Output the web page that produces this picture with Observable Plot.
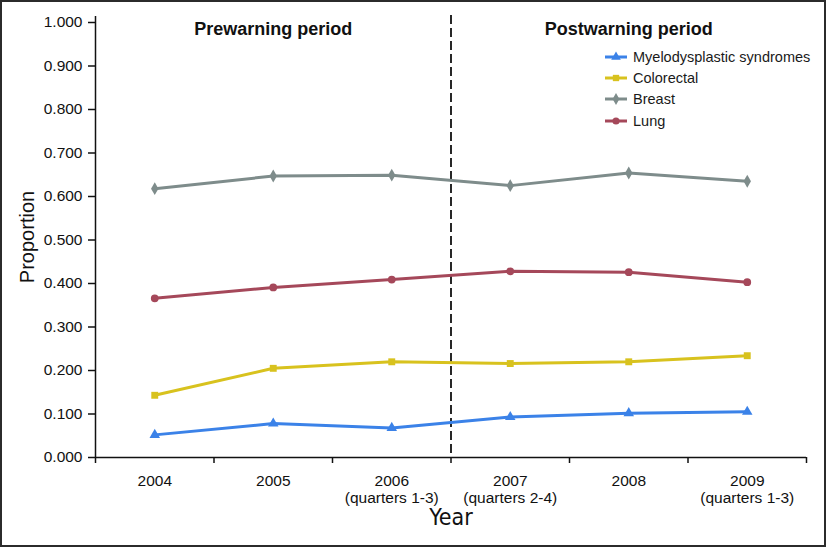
<!DOCTYPE html>
<html><head><meta charset="utf-8">
<script src="https://cdn.jsdelivr.net/npm/d3@7"></script>
<script src="https://cdn.jsdelivr.net/npm/@observablehq/plot@0.6"></script>
<style>
body{margin:0;background:#fff;}
#wrap{position:relative;width:828px;height:547px;font-family:"Liberation Sans",Arial,Helvetica,sans-serif;}
#border{position:absolute;left:0;top:0;width:826px;height:547px;box-sizing:border-box;border:2px solid #2b2b2b;pointer-events:none;}
#legend{position:absolute;left:605px;top:46px;font-size:14.5px;color:#1a1a1a;}
.row{display:flex;align-items:center;height:21.4px;white-space:nowrap;}
.row svg{margin-right:6px;}
</style></head><body><div id="wrap"><div id="chart"></div><div id="legend"></div><div id="border"></div></div>
<script>
// Category (x) labels
const yearLabels = ["2004", "2005", "2006\n(quarters 1-3)", "2007\n(quarters 2-4)", "2008", "2009\n(quarters 1-3)"];
// Series
const seriesNames = ["Myelodysplastic syndromes", "Colorectal", "Breast", "Lung"];
const seriesColors = ["#3b82e8", "#d8c21e", "#7e8c8b", "#a5485a"];
const seriesSymbols = ["triangle", "square", "diamond", "circle"];
const mdsValues        = [0.052, 0.078, 0.068, 0.093, 0.102, 0.105];
const colorectalValues = [0.143, 0.205, 0.220, 0.216, 0.220, 0.234];
const breastValues     = [0.618, 0.647, 0.649, 0.625, 0.654, 0.635];
const lungValues       = [0.366, 0.391, 0.409, 0.428, 0.426, 0.403];
// Y ticks
const yTicks = [0, 0.1, 0.2, 0.3, 0.4, 0.5, 0.6, 0.7, 0.8, 0.9, 1.0];
// Periods (in category index units) and warning boundary
const periodLabels = ["Prewarning period", "Postwarning period"];
const periodStart = [0, 3];
const periodEnd = [3, 6];
const warningBoundary = 3;

const valuesBySeries = [mdsValues, colorectalValues, breastValues, lungValues];
const rows = seriesNames.flatMap((s, k) => valuesBySeries[k].map((v, i) => ({series: s, pos: i + 0.5, value: v})));
const bandEdges = d3.range(yearLabels.length + 1);
const bandCenters = yearLabels.map((_, i) => i + 0.5);
const periods = periodLabels.map((label, i) => ({label, mid: (periodStart[i] + periodEnd[i]) / 2}));

const plot = Plot.plot({
  width: 828, height: 547,
  marginLeft: 95, marginRight: 22, marginTop: 22, marginBottom: 90,
  style: {fontFamily: "'Liberation Sans', Arial, Helvetica, sans-serif", background: "transparent", color: "#111"},
  x: {type: "linear", domain: [0, yearLabels.length]},
  y: {domain: [0, 1]},
  color: {domain: seriesNames, range: seriesColors},
  symbol: {domain: seriesNames, range: seriesSymbols},
  marks: [
    Plot.axisY(yTicks, {tickSize: 7, tickPadding: 6, tickFormat: d3.format(".3f"), fontSize: 15.5, strokeWidth: 1.5, label: null}),
    Plot.axisX(bandEdges, {tickSize: 6, tickFormat: () => "", strokeWidth: 1.5, label: null}),
    Plot.axisX(bandCenters, {tickSize: 0, tickPadding: 16, tickFormat: d => yearLabels[Math.floor(d)], fontSize: 15.5, lineHeight: 1.13, label: null}),
    Plot.ruleX([0], {stroke: "#111", strokeWidth: 1.5, insetTop: -6}),
    Plot.ruleY([0], {stroke: "#111", strokeWidth: 1.5}),
    Plot.ruleX([warningBoundary], {stroke: "#111", strokeWidth: 1.8, strokeDasharray: "9,4", insetTop: -7}),
    Plot.line(rows, {x: "pos", y: "value", z: "series", stroke: "series", strokeWidth: 3}),
    Plot.dot(rows, {x: "pos", y: "value", fill: "series", symbol: "series", r: 3.9}),
    Plot.text(periods, {x: "mid", frameAnchor: "top", text: "label", fontWeight: "bold", fontSize: 18, fill: "#111"}),
    Plot.text(["Proportion"], {frameAnchor: "left", textAnchor: "middle", dx: -68, dy: -3, rotate: -90, fontSize: 20, fill: "#111"}),
    Plot.text(["Year"], {frameAnchor: "bottom", dy: 67, fontSize: 23, fill: "#111", fontFamily: "'Liberation Sans Narrow', 'DejaVu Sans Condensed', Arial, sans-serif"})
  ]
});
document.getElementById("chart").appendChild(plot);

// Legend
const legend = document.getElementById("legend");
const symbolPaths = {triangle: d3.symbolTriangle, square: d3.symbolSquare, diamond: d3.symbolDiamond, circle: d3.symbolCircle};
seriesNames.forEach((name, k) => {
  const row = document.createElement("div");
  row.className = "row";
  const path = d3.symbol(symbolPaths[seriesSymbols[k]], 40)();
  row.innerHTML = `<svg width="22" height="12"><line x1="0" x2="22" y1="6" y2="6" stroke="${seriesColors[k]}" stroke-width="3"/><path d="${path}" transform="translate(11,6)" fill="${seriesColors[k]}"/></svg><span>${name}</span>`;
  legend.appendChild(row);
});
</script>
</body></html>
